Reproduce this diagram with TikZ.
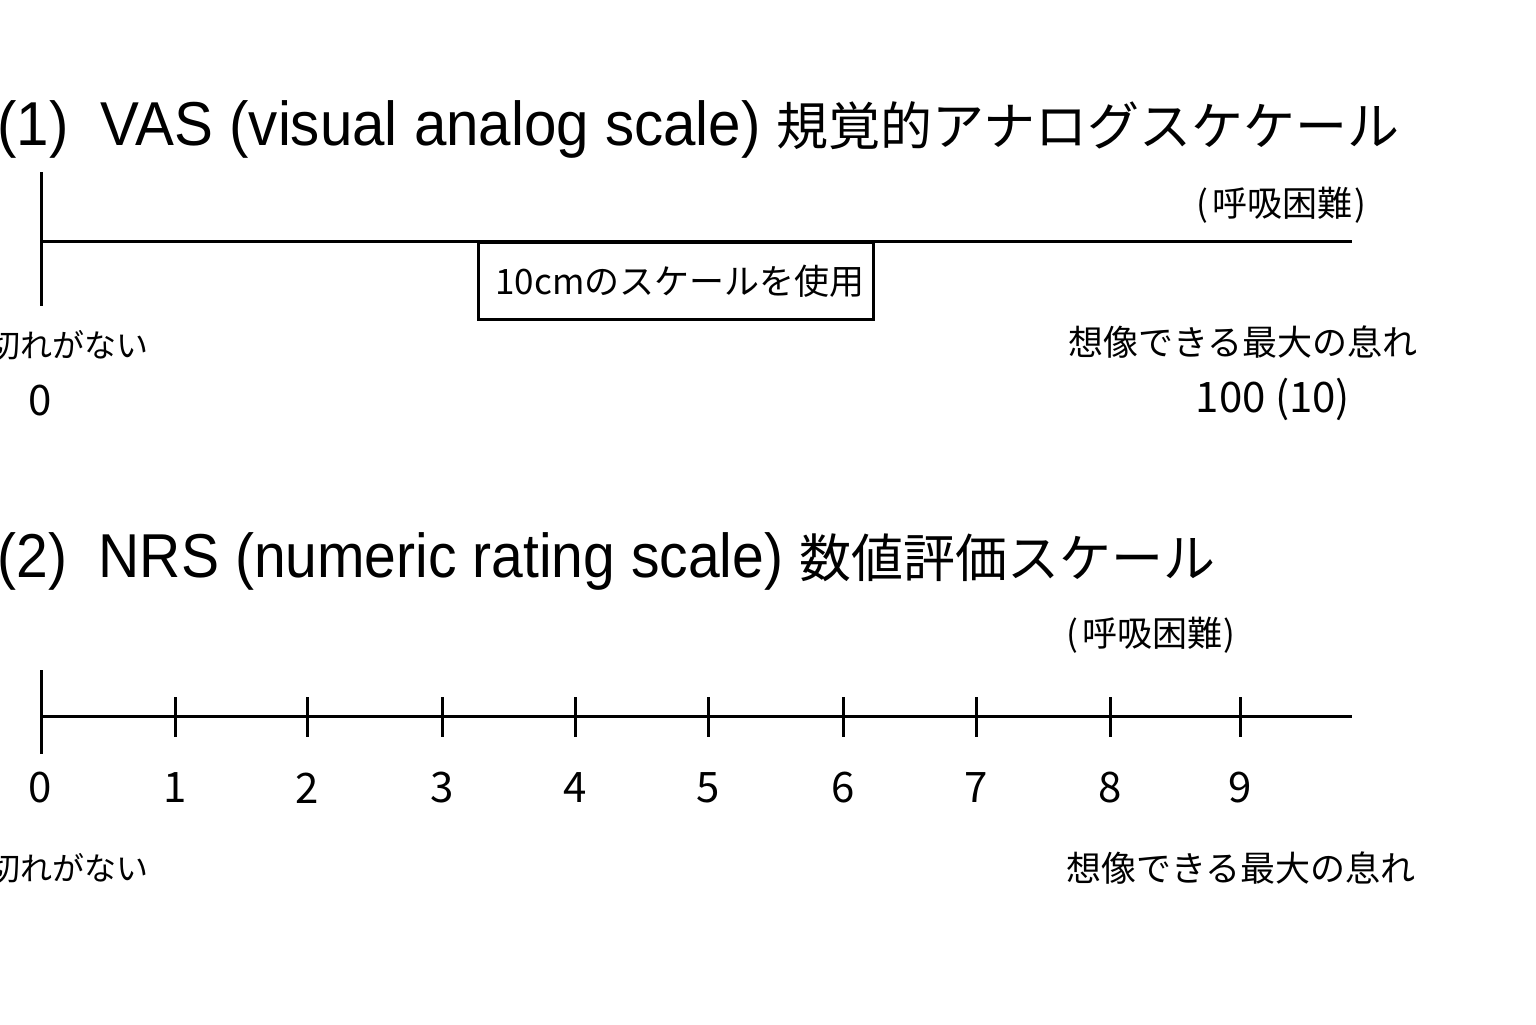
\documentclass[tikz,border=0pt]{standalone}
\usepackage{fontspec}
\usepackage{graphicx}
\setmainfont{Noto Sans CJK JP}
\newfontfamily\latfont{Liberation Sans}
\newfontfamily\cjkfont{Noto Sans CJK JP}
\begin{document}
\begin{tikzpicture}[x=0.5pt,y=-0.5pt,
  axisline/.style={line width=1.5pt},
  lbl/.style={font=\cjkfont\fontsize{17.5}{20}\selectfont, inner sep=0pt},
  lblsmall/.style={font=\cjkfont\fontsize{16}{18}\selectfont, inner sep=0pt},
  num/.style={font=\cjkfont\fontsize{21}{24}\selectfont, inner sep=0pt},
  ttl/.style={inner sep=0pt, anchor=base west},
  boxnode/.style={draw, line width=1.5pt, inner sep=0pt, minimum width=197.5pt, minimum height=38.5pt, font=\cjkfont\fontsize{17.5}{20}\selectfont}]
\useasboundingbox[fill=white] (0,0) rectangle (1536,1024);

% ---------- (1) VAS ----------
\node[ttl] (t1) at (-3,145) {\latfont\fontsize{31}{36}\selectfont\scalebox{0.94}[1]{(1)\ \ VAS (visual analog scale) }\cjkfont\fontsize{26}{30}\selectfont 規覚的アナログスケケール};

\coordinate (v0) at (41,241);
\coordinate (v1) at (1352,241);
\coordinate (vt) at (41,172);
\coordinate (vb) at (41,306);
\draw[axisline] (v0) -- (v1);
\draw[axisline] (vt) -- (vb);

\node[boxnode, anchor=north west] (box) at (477,241) {\kern4pt10cmのスケールを使用};

\node[lbl] (d1) at (1281,205) {(\kern2pt呼吸困難\kern1pt)};
\node[lbl] (max1) at (1243,342) {想像できる最大の息れ};
\node[num] (n100) at (1273,399) {100 (10)};
\node[num] (n0a) at (40,401) {0};
\node[lblsmall, anchor=east] (none1) at (149,345) {息切れがない};

% ---------- (2) NRS ----------
\node[ttl] (t2) at (-3,577) {\latfont\fontsize{31}{36}\selectfont\scalebox{0.92}[1]{(2)\ \ NRS (numeric rating scale) }\cjkfont\fontsize{26}{30}\selectfont 数値評価スケール};

\coordinate (n0) at (41,716);
\coordinate (n1) at (1352,716);
\coordinate (nt) at (41,670);
\coordinate (nb) at (41,754);
\draw[axisline] (n0) -- (n1);
\draw[axisline] (nt) -- (nb);
\node[num] (k0) at (40,788) {0};
\foreach \xx/\lab in {175/1,307/2,442/3,575/4,708/5,843/6,976/7,1110/8,1240/9}{
  \coordinate (tt\lab) at (\xx,697);
  \coordinate (tb\lab) at (\xx,737);
  \draw[axisline] (tt\lab) -- (tb\lab);
  \node[num] (k\lab) at (\xx,788) {\lab};
}

\node[lbl] (d2) at (1151,635) {(\kern2pt呼吸困難\kern1pt)};
\node[lbl] (max2) at (1241,868) {想像できる最大の息れ};
\node[lblsmall, anchor=east] (none2) at (149,868) {息切れがない};
\end{tikzpicture}
\end{document}
